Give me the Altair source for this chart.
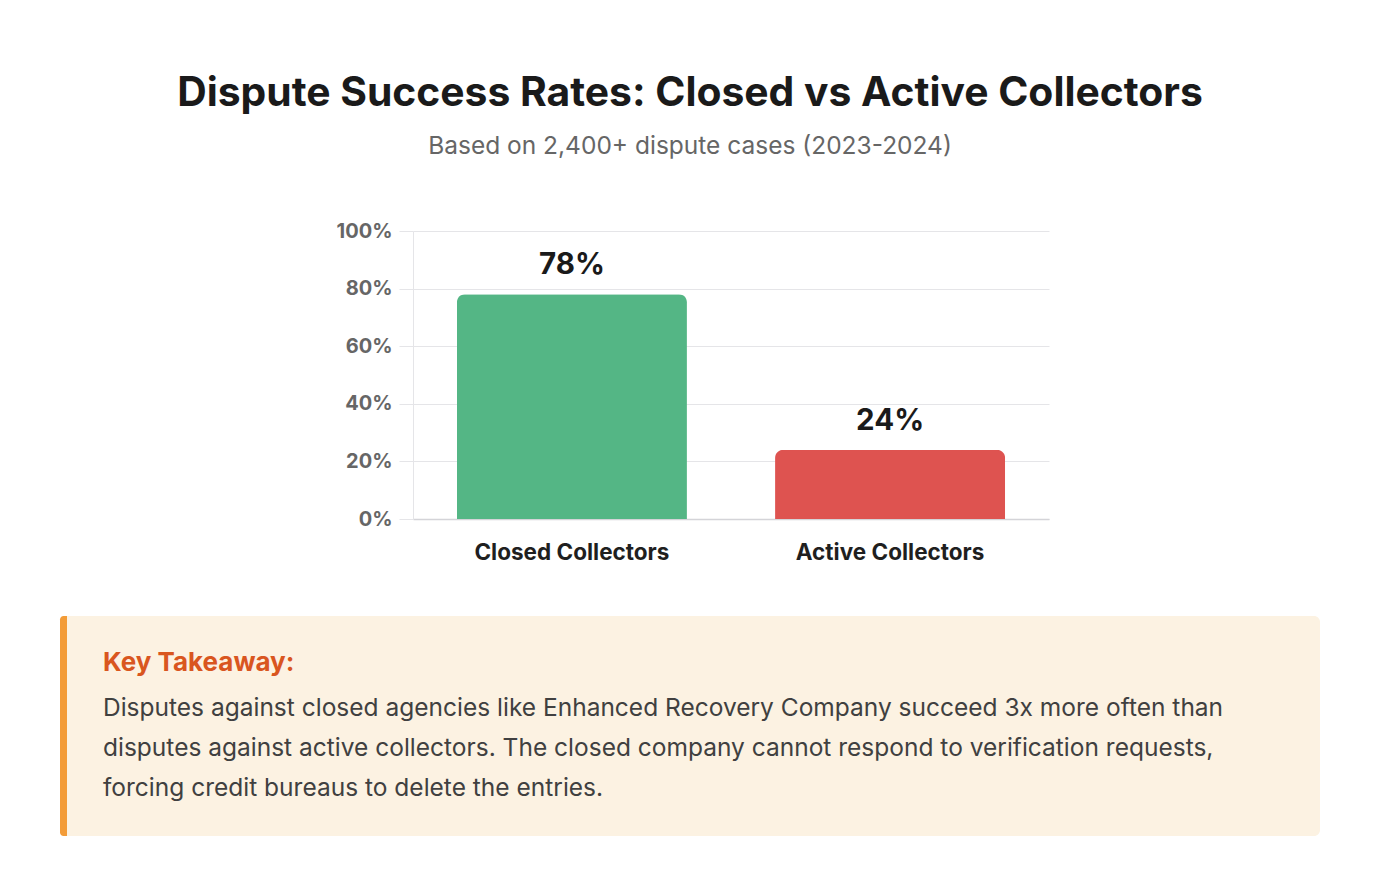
import altair as alt
import pandas as pd

categories = ["Closed Collectors", "Active Collectors"]
rates = [78, 24]
bar_colors = ["#54b685", "#de5350"]
y_ticks = [0, 20, 40, 60, 80, 100]

title_text = "Dispute Success Rates: Closed vs Active Collectors"
subtitle_text = "Based on 2,400+ dispute cases (2023-2024)"
takeaway_title = "Key Takeaway:"
takeaway_lines = [
    "Disputes against closed agencies like Enhanced Recovery Company succeed 3x more often than",
    "disputes against active collectors. The closed company cannot respond to verification requests,",
    "forcing credit bureaus to delete the entries.",
]

FONT = "Inter"

df = pd.DataFrame({"category": categories, "rate": rates,
                   "label": [f"{r}%" for r in rates]})

x_enc = alt.X("category:N", sort=categories, title=None,
              scale=alt.Scale(paddingInner=0.277, paddingOuter=0.138),
              axis=alt.Axis(labelAngle=0, labelFont=FONT, labelFontSize=22.5,
                            labelFontWeight="bold", labelColor="#1f1f1f",
                            labelPadding=22, labelLimit=0, ticks=False,
                            domainColor="#d4d4d8", domainWidth=1.5))
y_enc = alt.Y("rate:Q", title=None,
              scale=alt.Scale(domain=[0, 100], nice=False),
              axis=alt.Axis(values=y_ticks, labelExpr="datum.value + '%'",
                            labelFont=FONT, labelFontSize=20, labelFontWeight="bold",
                            labelColor="#666666", labelPadding=7,
                            tickSize=14, tickColor="#e5e5e8", gridColor="#e5e5e8",
                            domainColor="#e5e5e8", grid=True))

bars = alt.Chart(df).mark_bar(cornerRadiusTopLeft=8, cornerRadiusTopRight=8).encode(
    x=x_enc, y=y_enc,
    color=alt.Color("category:N", sort=categories,
                    scale=alt.Scale(domain=categories, range=bar_colors), legend=None),
)

labels = alt.Chart(df).mark_text(font=FONT, fontSize=29.5, fontWeight="bold",
                                 color="#1a1a1a", baseline="alphabetic", dy=-20).encode(
    x=alt.X("category:N", sort=categories), y="rate:Q", text="label:N")

one = pd.DataFrame({"k": [0]})

title = alt.Chart(one).mark_text(font=FONT, fontSize=40.8, fontWeight="bold",
                                 color="#1a1a1a", align="center", baseline="middle").encode(
    x=alt.value(277), y=alt.value(-137), text=alt.value(title_text))
subtitle = alt.Chart(one).mark_text(font=FONT, fontSize=24.5, color="#666666",
                                    align="center", baseline="middle").encode(
    x=alt.value(277), y=alt.value(-84), text=alt.value(subtitle_text))

box = alt.Chart(one).mark_rect(color="#fcf2e2", cornerRadius=6).encode(
    x=alt.value(-353), x2=alt.value(907), y=alt.value(385), y2=alt.value(605))
border = alt.Chart(one).mark_rect(color="#f39c38", cornerRadiusTopLeft=6,
                                  cornerRadiusBottomLeft=6).encode(
    x=alt.value(-353), x2=alt.value(-346), y=alt.value(385), y2=alt.value(605))
kt = alt.Chart(one).mark_text(font=FONT, fontSize=26, fontWeight="bold",
                              color="#d9561f", align="left", baseline="middle").encode(
    x=alt.value(-310), y=alt.value(432), text=alt.value(takeaway_title))
body = alt.Chart(one).mark_text(font=FONT, fontSize=24.5, color="#404040",
                                align="left", baseline="middle", lineHeight=40).encode(
    x=alt.value(-310), y=alt.value(478), text=alt.value(takeaway_lines))

chart = alt.layer(box, border, kt, body, title, subtitle, bars, labels).properties(
    width=636, height=288,
    autosize=alt.AutoSizeParams(type="none"),
    padding={"left": 413, "top": 231, "right": 335, "bottom": 377},
    background="white",
).configure_view(stroke=None)

chart.save("out.html", embed_options={"renderer": "svg", "actions": False})
